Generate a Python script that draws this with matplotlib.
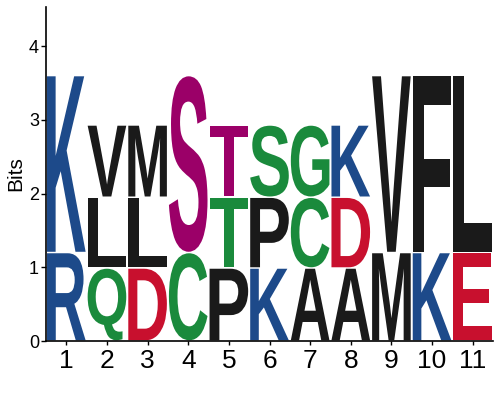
import matplotlib
matplotlib.use("Agg")
import matplotlib.pyplot as plt
from matplotlib.textpath import TextPath
from matplotlib.patches import PathPatch
from matplotlib.font_manager import FontProperties
from matplotlib.transforms import Affine2D

# Стовпчики логотипу, знизу вгору
positions = [1, 2, 3, 4, 5, 6, 7, 8, 9, 10, 11]
letters = [
    ["R", "K"],
    ["Q", "L", "V"],
    ["D", "L", "M"],
    ["C", "S"],
    ["P", "T", "T"],
    ["K", "P", "S"],
    ["A", "C", "G"],
    ["A", "D", "K"],
    ["M", "V"],
    ["K", "F"],
    ["E", "L"],
]
heights = [
    [1.2, 2.4],
    [0.99, 0.96, 0.98],
    [0.99, 0.96, 0.98],
    [1.2, 2.4],
    [0.99, 0.96, 0.98],
    [0.99, 0.96, 0.98],
    [0.99, 0.96, 0.98],
    [0.99, 0.96, 0.98],
    [1.2, 2.4],
    [1.2, 2.4],
    [1.2, 2.4],
]

BLUE = "#1d4a8a"
GREEN = "#1a8a3c"
RED = "#c8102e"
PURPLE = "#9b0068"
BLACK = "#1a1a1a"
colors = [
    [BLUE, BLUE],
    [GREEN, BLACK, BLACK],
    [RED, BLACK, BLACK],
    [GREEN, PURPLE],
    [BLACK, GREEN, PURPLE],
    [BLUE, BLACK, GREEN],
    [BLACK, GREEN, GREEN],
    [BLACK, RED, BLUE],
    [BLACK, BLACK],
    [BLUE, BLACK],
    [RED, BLACK],
]

font = FontProperties(family="Liberation Sans", weight="bold")


def draw_letter(ax, ch, x, y, w, h, color):
    tp = TextPath((0, 0), ch, size=1, prop=font)
    bb = tp.get_extents()
    tr = (Affine2D()
          .translate(-bb.x0, -bb.y0)
          .scale(w / bb.width, h / bb.height)
          .translate(x - w / 2, y))
    path = tr.transform_path(tp)
    ax.add_patch(PathPatch(path, facecolor=color, edgecolor="none"))


fig = plt.figure(figsize=(5, 4), dpi=100)
ax = fig.add_axes([0.092, 0.1475, 0.894, 0.835])

for pos, lets, hs, cs in zip(positions, letters, heights, colors):
    bottom = 0.0
    for ch, h, c in zip(lets, hs, cs):
        draw_letter(ax, ch, pos, bottom + 0.01, 0.95, h - 0.02, c)
        bottom += h

ax.set_xlim(0.5, 11.5)
ax.set_ylim(0, 4.53)
ax.set_xticks(positions)
ax.set_xticklabels([str(p) for p in positions], fontsize=19, family="Liberation Sans")
ax.set_yticks([0, 1, 2, 3, 4])
ax.set_yticklabels(["0", "1", "2", "3", "4"], fontsize=13, family="Liberation Sans")
ax.set_ylabel("Bits", fontsize=15, family="Liberation Sans", labelpad=3)
ax.tick_params(axis="y", length=3.5, width=1, pad=1.5)
ax.tick_params(axis="x", length=3, width=1, pad=3)
for s in ["top", "right"]:
    ax.spines[s].set_visible(False)
ax.spines["left"].set_linewidth(1.2)
ax.spines["bottom"].set_linewidth(1.2)

fig.savefig("out.png", dpi=100)
